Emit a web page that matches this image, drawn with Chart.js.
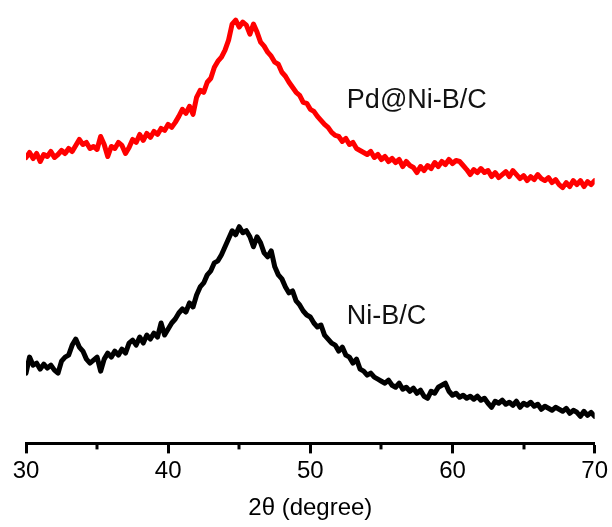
<!DOCTYPE html>
<html>
<head>
<meta charset="utf-8">
<title>XRD patterns</title>
<script src="https://cdn.jsdelivr.net/npm/chart.js@4.4.1/dist/chart.umd.min.js"></script>
<style>
  html, body { margin: 0; padding: 0; background: #ffffff; }
  #wrap { width: 612px; height: 527px; }
</style>
</head>
<body>
<div id="wrap"><canvas id="xrd" width="612" height="527"></canvas></div>
<script>
// 2θ sampling (degrees), 0.25° step from 30 to 70
const twoTheta = [];
for (let i = 0; i <= 160; i++) twoTheta.push(30 + i * 0.25);

// Intensity (a.u.), stacked patterns
const pdNiBC = [
  285, 290, 284, 289, 281, 288, 286, 291, 285, 288,
  292, 289, 294, 291, 297, 303, 298, 300, 294, 296,
  293, 306, 298, 286, 296, 294, 300, 297, 289, 295,
  303, 300, 308, 302, 309, 305, 311, 308, 314, 312,
  318, 315, 320, 326, 333, 329, 336, 328, 345, 352,
  350, 360, 364, 375, 381, 385, 392, 402, 418, 422,
  415, 420, 417, 408, 418, 410, 400, 396, 390, 386,
  380, 378, 370, 366, 360, 355, 350, 347, 340, 339,
  333, 331, 326, 322, 318, 315, 310, 307, 306, 301,
  304, 298, 300, 294, 292, 290, 288, 291, 285, 288,
  283, 286, 281, 284, 280, 283, 276, 281, 277, 275,
  270, 276, 272, 277, 274, 280, 276, 281, 278, 283,
  279, 282, 281, 277, 273, 268, 273, 270, 274, 270,
  272, 266, 270, 265, 268, 271, 266, 272, 268, 264,
  267, 262, 266, 263, 268, 264, 262, 265, 260, 263,
  258, 255, 260, 256, 262, 258, 262, 256, 261, 258,
  262
];

const niBC = [
  70, 86, 78, 80, 74, 79, 75, 78, 73, 70,
  82, 86, 88, 98, 104, 96, 92, 84, 80, 83,
  86, 72, 84, 90, 86, 92, 88, 94, 90, 100,
  103, 98, 106, 100, 108, 104, 110, 106, 120, 108,
  114, 120, 124, 130, 134, 131, 140, 136, 148, 156,
  160, 168, 172, 180, 182, 188, 196, 204, 212, 208,
  216, 210, 212, 206, 196, 206, 200, 190, 186, 192,
  176, 168, 164, 156, 150, 152, 142, 138, 132, 128,
  126, 120, 116, 118, 108, 104, 100, 98, 92, 96,
  88, 86, 80, 84, 74, 72, 68, 70, 66, 64,
  62, 60, 63, 58, 56, 60, 54, 56, 52, 55,
  50, 53, 47, 45, 52, 50, 56, 58, 60, 52,
  48, 50, 46, 48, 45, 47, 44, 47, 43, 45,
  40, 36, 42, 40, 43, 39, 41, 38, 42, 36,
  40, 38, 41, 37, 39, 34, 37, 35, 33, 36,
  34, 32, 35, 30, 33, 31, 27, 32, 28, 31,
  27
];

const seriesNames = ['Pd@Ni-B/C', 'Ni-B/C'];
const seriesColors = ['#ff0000', '#000000'];
const xTicks = [30, 40, 50, 60, 70];
const xMinorTicks = [35, 45, 55, 65];

// Sample names written next to each pattern, in data coordinates
const curveLabels = [
  { text: 'Pd@Ni-B/C', x: 52.57, y: 334 },
  { text: 'Ni-B/C', x: 52.57, y: 119 }
];

const toPoints = (ys) => ys.map((v, i) => ({ x: twoTheta[i], y: v }));

const minorTickPlugin = {
  id: 'minorTicks',
  afterDraw(chart) {
    const { ctx, scales } = chart;
    const xs = scales.x;
    const yBase = chart.chartArea.bottom;
    ctx.save();
    ctx.strokeStyle = '#000';
    ctx.lineWidth = 3;
    xMinorTicks.forEach(v => {
      const px = Math.round(xs.getPixelForValue(v));
      ctx.beginPath();
      ctx.moveTo(px, yBase);
      ctx.lineTo(px, yBase + 6);
      ctx.stroke();
    });
    ctx.restore();
  }
};

const curveLabelPlugin = {
  id: 'curveLabels',
  afterDatasetsDraw(chart) {
    const { ctx, scales } = chart;
    ctx.save();
    ctx.font = '27px "Liberation Sans", Arial, sans-serif';
    ctx.fillStyle = '#111';
    ctx.textAlign = 'left';
    ctx.textBaseline = 'alphabetic';
    curveLabels.forEach(l => {
      ctx.fillText(l.text, scales.x.getPixelForValue(l.x), scales.y.getPixelForValue(l.y));
    });
    ctx.restore();
  }
};

const lineStyle = {
  borderWidth: 5,
  borderJoinStyle: 'round',
  borderCapStyle: 'round',
  pointRadius: 0,
  tension: 0,
  fill: false
};

new Chart(document.getElementById('xrd'), {
  type: 'line',
  data: {
    datasets: [
      Object.assign({ label: seriesNames[0], data: toPoints(pdNiBC), borderColor: seriesColors[0] }, lineStyle),
      Object.assign({ label: seriesNames[1], data: toPoints(niBC), borderColor: seriesColors[1] }, lineStyle)
    ]
  },
  options: {
    responsive: false,
    devicePixelRatio: 1,
    animation: false,
    layout: { padding: { left: 26, right: 17, top: 0, bottom: 0 } },
    plugins: {
      legend: { display: false },
      tooltip: { enabled: false }
    },
    scales: {
      x: {
        type: 'linear',
        min: 30,
        max: 70,
        afterBuildTicks(scale) {
          scale.ticks = xTicks.map(v => ({ value: v }));
        },
        grid: {
          drawOnChartArea: false,
          drawTicks: true,
          tickLength: 10,
          tickWidth: 3,
          tickColor: '#000'
        },
        border: { display: true, color: '#000', width: 3 },
        ticks: {
          color: '#000',
          font: { family: '"Liberation Sans", Arial, sans-serif', size: 24 },
          padding: 4,
          maxRotation: 0,
          autoSkip: false
        },
        title: {
          display: true,
          text: '2θ (degree)',
          color: '#000',
          font: { family: '"Liberation Sans", Arial, sans-serif', size: 24 },
          padding: { top: 4, bottom: 4 }
        }
      },
      y: {
        display: false,
        min: 0,
        max: 442
      }
    }
  },
  plugins: [minorTickPlugin, curveLabelPlugin]
});
</script>
</body>
</html>
